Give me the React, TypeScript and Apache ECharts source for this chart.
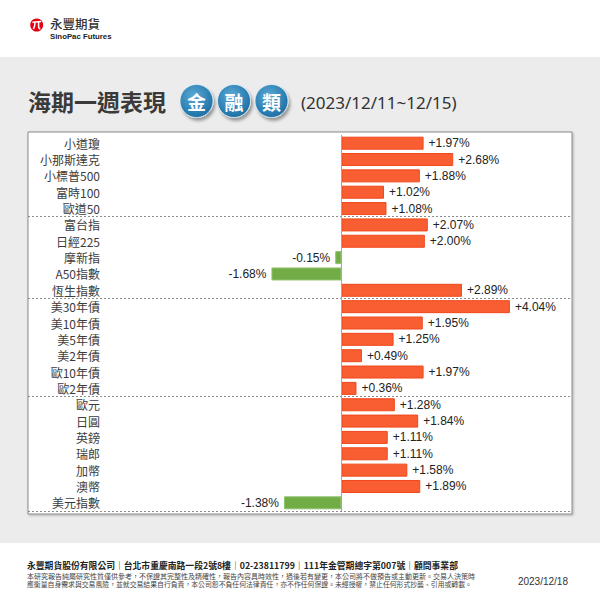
import React, { useEffect, useRef } from "react";
import * as echarts from "echarts";

const categories = [
  "小道瓊", "小那斯達克", "小標普500", "富時100", "歐道50",
  "富台指", "日經225", "摩新指", "A50指數", "恆生指數",
  "美30年債", "美10年債", "美5年債", "美2年債", "歐10年債", "歐2年債",
  "歐元", "日圓", "英鎊", "瑞郎", "加幣", "澳幣", "美元指數",
];
const values = [
  1.97, 2.68, 1.88, 1.02, 1.08,
  2.07, 2.0, -0.15, -1.68, 2.89,
  4.04, 1.95, 1.25, 0.49, 1.97, 0.36,
  1.28, 1.84, 1.11, 1.11, 1.58, 1.89, -1.38,
];
const groupStarts = [5, 10, 16];

const brandName = "永豐期貨";
const brandEn = "SinoPac Futures";
const titleText = "海期一週表現";
const badgeChars = ["金", "融", "類"];
const dateRange = "(2023/12/11~12/15)";
const footerCompany = "永豐期貨股份有限公司｜台北市重慶南路一段2號8樓｜02-23811799｜111年金管期總字第007號｜顧問事業部";
const footerLine1 = "本研究報告純屬研究性質僅供參考，不保證其完整性及精確性，報告內容具時效性，過後若有變更，本公司將不做預告或主動更新。交易人決策時";
const footerLine2 = "應衡量自身需求與交易風險，並就交易結果自行負責，本公司恕不負任何法律責任，亦不作任何保證。未經授權，禁止任何形式抄襲、引用或轉載。";
const reportDate = "2023/12/18";

const CJK = '"Noto Sans CJK TC", "Noto Sans CJK SC", sans-serif';
const LATIN = '"Liberation Sans", Arial, sans-serif';

export default function App() {
  const ref = useRef<HTMLDivElement>(null);
  useEffect(() => {
    document.body.style.margin = "0";
    if (!ref.current) return;
    const chart = echarts.init(ref.current, null, { renderer: "svg" });

    const badgeX = [196.5, 234, 271.5];
    const badgeGraphics: any[] = [];
    badgeChars.forEach((ch, i) => {
      badgeGraphics.push({
        type: "circle",
        shape: { cx: badgeX[i], cy: 101, r: 16.5 },
        style: {
          fill: new echarts.graphic.RadialGradient(0.42, 0.35, 0.7, [
            { offset: 0, color: "#5eaad6" },
            { offset: 0.7, color: "#2a7fb2" },
            { offset: 1, color: "#1d6a9b" },
          ]),
          stroke: "#e8f2f8",
          lineWidth: 0.8,
          shadowColor: "rgba(0,0,0,0.35)",
          shadowBlur: 3,
          shadowOffsetX: 2,
          shadowOffsetY: 3,
        },
        z: 5,
      });
      badgeGraphics.push({
        type: "text",
        x: badgeX[i],
        y: 101,
        style: {
          text: ch,
          fill: "#ffffff",
          font: `bold 19px ${CJK}`,
          align: "center",
          verticalAlign: "middle",
        },
        z: 6,
      });
    });

    const option: any = {
      animation: false,
      backgroundColor: "#ffffff",
      graphic: [
        { type: "rect", shape: { x: 0, y: 57, width: 600, height: 486 }, style: { fill: "#ececec" }, z: -10 },
        {
          type: "rect",
          shape: { x: 28, y: 132, width: 544, height: 382 },
          style: {
            fill: "#ffffff",
            stroke: "#8a8a8a",
            lineWidth: 1,
            shadowColor: "rgba(0,0,0,0.25)",
            shadowBlur: 2,
            shadowOffsetX: 1,
            shadowOffsetY: 1,
          },
          z: -9,
        },
        // logo
        { type: "circle", shape: { cx: 36.7, cy: 25, r: 6.5 }, style: { fill: "#e60012" }, z: 5 },
        {
          type: "polyline",
          shape: { points: [[32.4, 22.3], [41.2, 21.6]] },
          style: { stroke: "#fff", lineWidth: 1.5, fill: "none" },
          z: 6,
        },
        {
          type: "polyline",
          shape: { points: [[35, 22], [34.6, 26], [33.4, 29]] },
          style: { stroke: "#fff", lineWidth: 1.5, fill: "none" },
          z: 6,
        },
        {
          type: "polyline",
          shape: { points: [[38.6, 21.8], [38.6, 27.5], [40.2, 29.2]] },
          style: { stroke: "#fff", lineWidth: 1.5, fill: "none" },
          z: 6,
        },
        {
          type: "text",
          x: 50,
          y: 23,
          style: { text: brandName, fill: "#333", font: `500 12.5px ${CJK}`, verticalAlign: "middle" },
          z: 6,
        },
        {
          type: "text",
          x: 50,
          y: 36.5,
          style: { text: brandEn, fill: "#222", font: `bold 7.8px ${LATIN}`, verticalAlign: "middle" },
          z: 6,
        },
        // title
        {
          type: "text",
          x: 28,
          y: 101,
          style: { text: titleText, fill: "#3a3a3a", font: `bold 23px ${CJK}`, verticalAlign: "middle" },
          z: 6,
        },
        ...badgeGraphics,
        {
          type: "text",
          x: 301,
          y: 102,
          style: { text: dateRange, fill: "#333", font: `17px "Noto Sans", ${LATIN}`, verticalAlign: "middle" },
          z: 6,
        },
        // footer
        {
          type: "text",
          x: 27,
          y: 565,
          style: { text: footerCompany, fill: "#222", font: `bold 8.8px ${CJK}`, verticalAlign: "middle" },
          z: 6,
        },
        {
          type: "text",
          x: 27,
          y: 575.5,
          style: { text: footerLine1, fill: "#444", font: `7px ${CJK}`, verticalAlign: "middle" },
          z: 6,
        },
        {
          type: "text",
          x: 27,
          y: 584,
          style: { text: footerLine2, fill: "#444", font: `6.85px ${CJK}`, verticalAlign: "middle" },
          z: 6,
        },
        {
          type: "text",
          x: 568,
          y: 581,
          style: { text: reportDate, fill: "#333", font: `10px ${LATIN}`, align: "right", verticalAlign: "middle" },
          z: 6,
        },
      ],
      grid: { left: 28, right: 28, top: 135, bottom: 89, containLabel: false },
      xAxis: {
        type: "value",
        min: -7.52,
        max: 5.53,
        show: false,
        splitLine: { show: false },
      },
      yAxis: {
        type: "category",
        data: categories,
        inverse: true,
        offset: -80,
        axisLine: { show: false },
        axisTick: { show: false },
        axisLabel: { margin: 8, fontSize: 12, color: "#3c3c3c", fontFamily: CJK },
        splitLine: {
          show: true,
          interval: (i: number) => groupStarts.includes(i),
          lineStyle: { type: [2, 2], color: "#8c8c8c", width: 1 },
        },
      },
      series: [
        {
          type: "bar",
          barWidth: 13,
          data: values.map((v) => ({
            value: v,
            itemStyle: v >= 0
              ? { color: "#f85e31", borderColor: "#f0481c", borderWidth: 1 }
              : { color: "#71ac47", borderColor: "#92c26f", borderWidth: 1 },
            label: { position: v >= 0 ? "right" : "left" },
          })),
          label: {
            show: true,
            distance: 5,
            fontSize: 12,
            color: "#222",
            fontFamily: LATIN,
            formatter: (p: any) => (p.value > 0 ? "+" : "") + Number(p.value).toFixed(2) + "%",
          },
          markLine: {
            silent: true,
            symbol: ["none", "none"],
            label: { show: false },
            lineStyle: { color: "#a6a6a6", type: "solid", width: 1 },
            data: [{ xAxis: 0 }],
          },
        },
      ],
    };
    chart.setOption(option);
    return () => chart.dispose();
  }, []);
  return <div ref={ref} style={{ width: 600, height: 600 }} />;
}
